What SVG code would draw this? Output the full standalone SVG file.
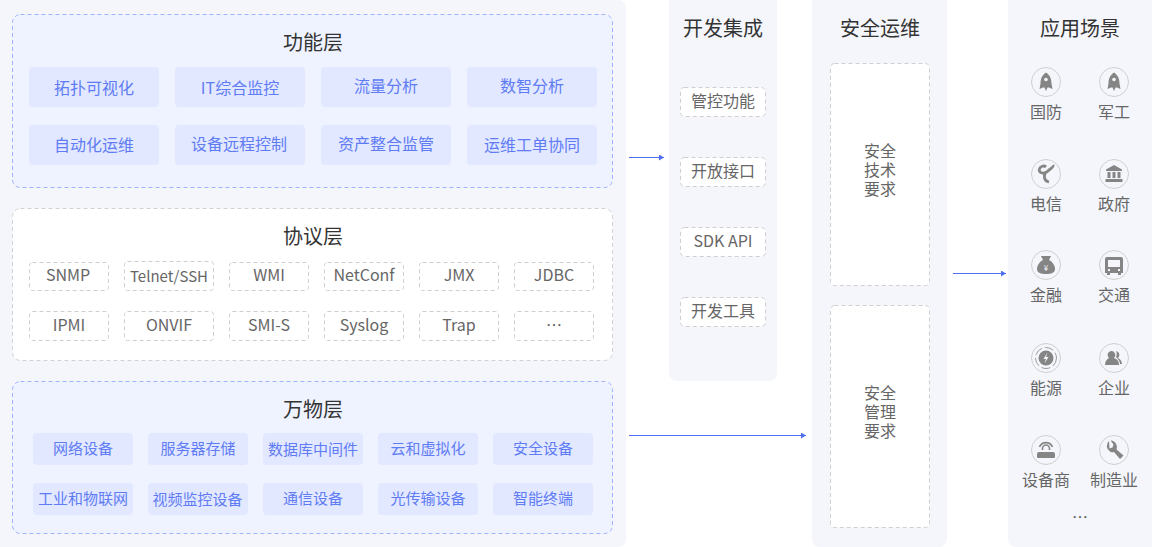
<svg xmlns="http://www.w3.org/2000/svg" width="1152" height="547" viewBox="0 0 1152 547">
<style>
text{font-family:"Noto Sans CJK SC","Noto Sans",sans-serif;text-anchor:middle}
.panel{fill:#f4f6fb}
.lb{fill:#eff3ff;stroke:#9fb2ff;stroke-dasharray:4 3}
.lw{fill:#fff;stroke:#d2d2d2;stroke-dasharray:4 3}
.card{fill:#e2e8ff}
.chip{fill:#fff;stroke:#cfcfcf;stroke-dasharray:4 3}
.t{font-size:20px;fill:#333}
.b{font-size:16px;fill:#5f7cf5}
.g{font-size:16px;fill:#666}
.s{font-size:15px;fill:#5f7cf5}
.ring{fill:none;stroke:#cfcfcf}
.ic{fill:#858585}
.c{stroke:#4f6ff0;fill:none;marker-end:url(#a)}
</style>
<defs>
<marker id="a" markerUnits="userSpaceOnUse" markerWidth="6" markerHeight="6" refX="5" refY="3" orient="auto"><path d="M0 0L5 3L0 6z" fill="#4f6ff0"/></marker>
<g id="rocket"><path class="ic" d="M0-9.500C4-7 5.500-3 5.500 1.500L6.500 7 3 5.500 1.500 5.500 0 9-1.500 5.500-3 5.500-6.500 7-5.500 1.500C-5.500-3-4-7 0-9.500z"/><circle cx="0" cy="-2.500" r="1.800" fill="#f4f6fb"/></g>
</defs>
<g id="panel-left"><rect class="panel" x="-8" y="0" width="634" height="547" rx="8"/></g>
<g id="layer-function">
<rect class="lb" x="12.5" y="14.5" width="600" height="173" rx="8"/>
<text class="t" x="313" y="50">功能层</text>
<g id="f1"><rect class="card" x="29" y="67" width="130" height="40" rx="4"/><text class="b" x="94" y="94">拓扑可视化</text></g>
<g id="f2"><rect class="card" x="175" y="67" width="130" height="40" rx="4"/><text class="b" x="240" y="94">IT综合监控</text></g>
<g id="f3"><rect class="card" x="321" y="67" width="130" height="40" rx="4"/><text class="b" x="386" y="92">流量分析</text></g>
<g id="f4"><rect class="card" x="467" y="67" width="130" height="40" rx="4"/><text class="b" x="532" y="92">数智分析</text></g>
<g id="f5"><rect class="card" x="29" y="125" width="130" height="40" rx="4"/><text class="b" x="94" y="151">自动化运维</text></g>
<g id="f6"><rect class="card" x="175" y="125" width="130" height="40" rx="4"/><text class="b" x="239" y="150">设备远程控制</text></g>
<g id="f7"><rect class="card" x="321" y="125" width="130" height="40" rx="4"/><text class="b" x="386" y="150">资产整合监管</text></g>
<g id="f8"><rect class="card" x="467" y="125" width="130" height="40" rx="4"/><text class="b" x="532" y="151">运维工单协同</text></g>
</g>
<g id="layer-protocol">
<rect class="lw" x="12.5" y="208.5" width="600" height="152" rx="8"/>
<text class="t" x="313" y="244">协议层</text>
<g id="p1"><rect class="chip" x="29.5" y="262.5" width="79" height="28" rx="3"/><text class="g" x="68" y="281">SNMP</text></g>
<g id="p2"><rect class="chip" x="124.5" y="261.5" width="89" height="29" rx="3"/><text class="g" x="169" y="282" style="font-size:15px">Telnet/SSH</text></g>
<g id="p3"><rect class="chip" x="229.5" y="262.5" width="79" height="28" rx="3"/><text class="g" x="269" y="281">WMI</text></g>
<g id="p4"><rect class="chip" x="324.5" y="262.5" width="79" height="28" rx="3"/><text class="g" x="364" y="281">NetConf</text></g>
<g id="p5"><rect class="chip" x="419.5" y="262.5" width="79" height="28" rx="3"/><text class="g" x="459" y="281">JMX</text></g>
<g id="p6"><rect class="chip" x="514.5" y="262.5" width="79" height="28" rx="3"/><text class="g" x="554" y="281">JDBC</text></g>
<g id="p7"><rect class="chip" x="29.5" y="311.5" width="79" height="29" rx="3"/><text class="g" x="69" y="331">IPMI</text></g>
<g id="p8"><rect class="chip" x="124.5" y="311.5" width="89" height="29" rx="3"/><text class="g" x="169" y="331">ONVIF</text></g>
<g id="p9"><rect class="chip" x="229.5" y="311.5" width="79" height="29" rx="3"/><text class="g" x="269" y="331">SMI-S</text></g>
<g id="p10"><rect class="chip" x="324.5" y="311.5" width="79" height="29" rx="3"/><text class="g" x="364" y="331">Syslog</text></g>
<g id="p11"><rect class="chip" x="419.5" y="311.5" width="79" height="29" rx="3"/><text class="g" x="459" y="331">Trap</text></g>
<g id="p12"><rect class="chip" x="514.5" y="311.5" width="79" height="29" rx="3"/><text class="g" x="554" y="331">…</text></g>
</g>
<g id="layer-things">
<rect class="lb" x="12.5" y="381.5" width="600" height="152" rx="8"/>
<text class="t" x="313" y="417">万物层</text>
<g id="w1"><rect class="card" x="33" y="433" width="100" height="32" rx="4"/><text class="s" x="83" y="454">网络设备</text></g>
<g id="w2"><rect class="card" x="148" y="433" width="100" height="32" rx="4"/><text class="s" x="198" y="454">服务器存储</text></g>
<g id="w3"><rect class="card" x="263" y="433" width="100" height="32" rx="4"/><text class="s" x="313" y="455">数据库中间件</text></g>
<g id="w4"><rect class="card" x="378" y="433" width="100" height="32" rx="4"/><text class="s" x="428" y="454">云和虚拟化</text></g>
<g id="w5"><rect class="card" x="493" y="433" width="100" height="32" rx="4"/><text class="s" x="543" y="454">安全设备</text></g>
<g id="w6"><rect class="card" x="33" y="483" width="100" height="32" rx="4"/><text class="s" x="83" y="504">工业和物联网</text></g>
<g id="w7"><rect class="card" x="148" y="483" width="100" height="32" rx="4"/><text class="s" x="197.500" y="505">视频监控设备</text></g>
<g id="w8"><rect class="card" x="263" y="483" width="100" height="32" rx="4"/><text class="s" x="313" y="504">通信设备</text></g>
<g id="w9"><rect class="card" x="378" y="483" width="100" height="32" rx="4"/><text class="s" x="428" y="504">光传输设备</text></g>
<g id="w10"><rect class="card" x="493" y="483" width="100" height="32" rx="4"/><text class="s" x="543" y="504">智能终端</text></g>
</g>
<g id="panel-dev">
<rect class="panel" x="669" y="-8" width="108" height="389" rx="8"/>
<text class="t" x="723" y="36">开发集成</text>
<g id="d1"><rect class="chip" x="680.5" y="87.5" width="85" height="29" rx="4"/><text class="g" x="723" y="107">管控功能</text></g>
<g id="d2"><rect class="chip" x="680.5" y="157.5" width="85" height="29" rx="4"/><text class="g" x="723" y="177">开放接口</text></g>
<g id="d3"><rect class="chip" x="680.5" y="227.5" width="85" height="29" rx="4"/><text class="g" x="723" y="247">SDK API</text></g>
<g id="d4"><rect class="chip" x="680.5" y="297.5" width="85" height="29" rx="4"/><text class="g" x="723" y="317">开发工具</text></g>
</g>
<g id="panel-sec">
<rect class="panel" x="812" y="-8" width="135" height="555" rx="8"/>
<text class="t" x="880" y="36">安全运维</text>
<g id="s1"><rect class="chip" x="830.5" y="63.5" width="99" height="222" rx="4"/><text class="g" x="880" y="157">安全</text><text class="g" x="880" y="176">技术</text><text class="g" x="880" y="195">要求</text></g>
<g id="s2"><rect class="chip" x="830.5" y="305.5" width="99" height="222" rx="4"/><text class="g" x="880" y="399">安全</text><text class="g" x="880" y="418">管理</text><text class="g" x="880" y="437">要求</text></g>
</g>
<g id="panel-app">
<rect class="panel" x="1008" y="-8" width="152" height="555" rx="8"/>
<text class="t" x="1080" y="36">应用场景</text>
<g id="a1"><circle class="ring" cx="1046" cy="82" r="14.5"/><use href="#rocket" x="1046" y="82"/><text class="g" x="1046" y="118">国防</text></g>
<g id="a2"><circle class="ring" cx="1114" cy="82" r="14.5"/><use href="#rocket" x="1114" y="82"/><text class="g" x="1114" y="118">军工</text></g>
<g id="a3"><circle class="ring" cx="1046" cy="174" r="14.5"/><path d="M1039 170c1 4 6 4 9 1s6-4 5-6M1046 172c-3 4-2 9 3 10" fill="none" stroke="#858585" stroke-width="2.800"/><path d="M1039 170c1-4 5-5 7-3" fill="none" stroke="#858585" stroke-width="2.800"/><text class="g" x="1046" y="210">电信</text></g>
<g id="a4"><circle class="ring" cx="1114" cy="174" r="14.5"/><path class="ic" d="M1114 165l8 4.500v1.500h-16v-1.500zM1107.500 172h3v6h-3zM1112.500 172h3v6h-3zM1117.500 172h3v6h-3zM1105.500 179h17v3h-17z"/><text class="g" x="1114" y="210">政府</text></g>
<g id="a5"><circle class="ring" cx="1046" cy="265" r="14.5"/><path class="ic" d="M1041 256h10l-2 4c4 2 6 6 6 9 0 4-4 5-9 5s-9-1-9-5c0-3 2-7 6-9z"/><text x="1046" y="271" style="font-size:8px;fill:#f4f6fb">¥</text><text class="g" x="1046" y="301">金融</text></g>
<g id="a6"><circle class="ring" cx="1114" cy="265" r="14.5"/><path class="ic" fill-rule="evenodd" d="M1107 257h14a2 2 0 0 1 2 2v14h-2v2h-3v-2h-8v2h-3v-2h-2v-14a2 2 0 0 1 2-2zM1108 260v7h12v-7zM1108 269v2h2v-2zM1118 269v2h2v-2z"/><text class="g" x="1114" y="301">交通</text></g>
<g id="a7"><circle class="ring" cx="1046" cy="358" r="14.5"/><circle cx="1046" cy="358" r="10.500" fill="none" stroke="#858585" stroke-width="0.800" stroke-dasharray="9 3"/><circle class="ic" cx="1046" cy="358" r="7.500"/><path d="M1047.500 352.500l-4 6.500h2.500l-1.500 4.500 4-6.500h-2.500z" fill="#f4f6fb"/><text class="g" x="1046" y="394">能源</text></g>
<g id="a8"><circle class="ring" cx="1114" cy="358" r="14.500"/><path class="ic" d="M1111 351a4 4 0 0 1 3 7c3 1 5 3 5 7h-14c0-4 2-6 4-7a4 4 0 0 1 2-7zM1116 351a4 4 0 0 1 2 7c2 1 4 3 4 6h-2c0-3-2-5-4-7 1-2 1-4 0-6z"/><text class="g" x="1114" y="394">企业</text></g>
<g id="a9"><circle class="ring" cx="1046" cy="450" r="14.5"/><path class="ic" d="M1039 452h14a2 2 0 0 1 2 2v3a1 1 0 0 1-1 1h-16a1 1 0 0 1-1-1v-3a2 2 0 0 1 2-2z"/><path d="M1042.500 450v-1.500a3.500 3.500 0 0 1 7 0v1.500M1039.500 447a7 7 0 0 1 13 0" fill="none" stroke="#858585" stroke-width="1.600"/><text class="g" x="1046" y="486">设备商</text></g>
<g id="a10"><circle class="ring" cx="1114" cy="450" r="14.5"/><path d="M1109 441a6.500 6.500 0 0 0 1 10.500c1.500 1 3 1 4 .500l6 7 3.500-3.500-7-6c.500-2 .500-3 0-4.500a6.500 6.500 0 0 0-6-4.500l3 4-1 3-3 1z" class="ic"/><text class="g" x="1114" y="486">制造业</text></g>
<text class="g" x="1080" y="523">…</text>
</g>
<g id="connectors">
<path class="c" d="M629 157.500H664"/>
<path class="c" d="M629 435.500H806"/>
<path class="c" d="M953 273.500H1006"/>
</g>
</svg>
